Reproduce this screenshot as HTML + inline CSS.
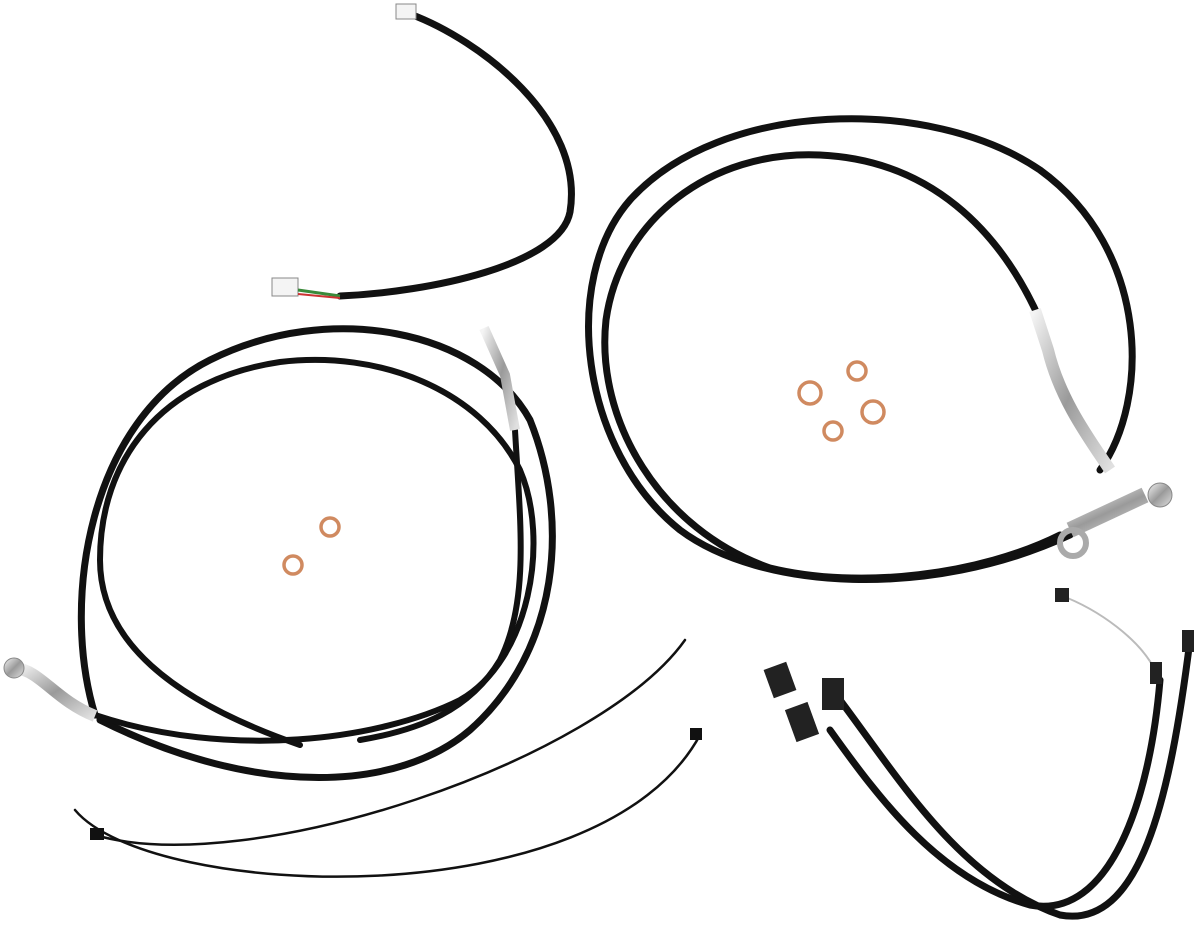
<!DOCTYPE html>
<html><head><meta charset="utf-8"><style>html,body{margin:0;padding:0;background:#fff}svg{display:block}</style></head>
<body>
<svg width="1200" height="942" viewBox="0 0 1200 942" xmlns="http://www.w3.org/2000/svg">
<defs>
<linearGradient id="chrome" x1="0" y1="0" x2="1" y2="1"><stop offset="0" stop-color="#f4f4f4"/><stop offset="0.5" stop-color="#9a9a9a"/><stop offset="1" stop-color="#e0e0e0"/></linearGradient>
</defs>
<g fill="none" stroke="#111" stroke-linecap="round">
<!-- top-left cable -->
<path d="M410,14 C480,40 585,120 570,212 C560,265 430,292 340,296" stroke-width="7"/>
<!-- right loops -->
<path d="M1100,470 C1150,400 1150,250 1040,170 C930,95 720,100 630,200 C560,280 580,450 680,530 C760,590 930,600 1070,535" stroke-width="7"/>
<path d="M1040,320 C1000,230 930,160 820,155 C710,150 620,220 606,320 C595,420 660,530 770,568 C860,590 980,575 1060,535" stroke-width="7"/>
<!-- left loops -->
<path d="M95,715 C60,600 90,420 210,360 C330,300 480,330 530,420 C570,520 560,650 470,730 C400,790 260,800 100,720" stroke-width="7"/>
<path d="M95,715 C230,760 380,740 460,700 C530,660 550,540 520,470 C480,390 380,350 280,362 C160,380 100,460 100,560 C100,640 170,700 300,745" stroke-width="6"/>
<path d="M515,430 C520,520 530,600 500,660 C470,710 420,730 360,740" stroke-width="6"/>
<!-- zip ties -->
<path d="M95,835 C250,880 600,760 685,640" stroke-width="2.5"/>
<path d="M75,810 C150,900 600,920 700,735" stroke-width="2.5"/>
<!-- harness -->
<path d="M840,700 C900,780 960,880 1060,915 C1140,930 1170,800 1190,640" stroke-width="7"/>
<path d="M830,730 C880,800 940,880 1030,905 C1110,920 1150,800 1160,680" stroke-width="7"/>
<path d="M1060,595 C1100,610 1140,640 1155,670" stroke="#bbb" stroke-width="2"/>
</g>
<!-- zip tie heads -->
<rect x="90" y="828" width="14" height="12" fill="#111"/>
<rect x="690" y="728" width="12" height="12" fill="#111"/>
<!-- connectors top-left -->
<rect x="396" y="4" width="20" height="15" fill="#f4f4f4" stroke="#888"/>
<rect x="272" y="278" width="26" height="18" fill="#f4f4f4" stroke="#888"/>
<path d="M298,290 L340,296" stroke="#3a8a3a" stroke-width="3"/>
<path d="M298,294 L340,298" stroke="#c33" stroke-width="2"/>
<!-- chrome fittings right -->
<path d="M1035,310 L1048,350 C1060,400 1090,440 1110,470" stroke="url(#chrome)" stroke-width="12" fill="none"/>
<path d="M1070,530 L1145,495" stroke="url(#chrome)" stroke-width="16"/>
<circle cx="1160" cy="495" r="12" fill="url(#chrome)" stroke="#888"/>
<circle cx="1073" cy="543" r="13" fill="none" stroke="#aaa" stroke-width="6"/>
<!-- chrome fittings left -->
<path d="M15,668 C40,670 55,700 95,716" stroke="url(#chrome)" stroke-width="12" fill="none"/>
<circle cx="14" cy="668" r="10" fill="url(#chrome)" stroke="#888"/>
<path d="M484,328 L505,375 L515,430" stroke="url(#chrome)" stroke-width="10" fill="none"/>
<!-- washers -->
<g fill="none" stroke="#d08a60" stroke-width="3.5">
<circle cx="293" cy="565" r="9"/><circle cx="330" cy="527" r="9"/>
<circle cx="810" cy="393" r="11"/><circle cx="857" cy="371" r="9"/>
<circle cx="873" cy="412" r="11"/><circle cx="833" cy="431" r="9"/>
</g>
<!-- harness connectors -->
<rect x="768" y="665" width="24" height="30" fill="#222" transform="rotate(-20 780 680)"/>
<rect x="822" y="678" width="22" height="32" fill="#222"/>
<rect x="790" y="705" width="24" height="34" fill="#222" transform="rotate(-20 802 722)"/>
<rect x="1055" y="588" width="14" height="14" fill="#222"/>
<rect x="1182" y="630" width="12" height="22" fill="#222"/>
<rect x="1150" y="662" width="12" height="22" fill="#222"/>
</svg>
</body></html>
